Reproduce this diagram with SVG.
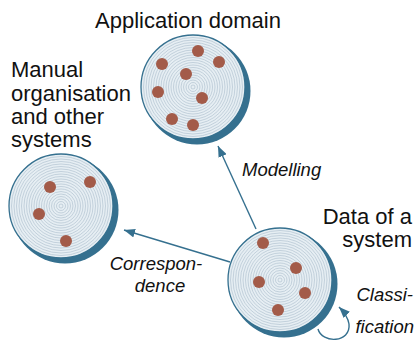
<svg xmlns="http://www.w3.org/2000/svg" xmlns:xlink="http://www.w3.org/1999/xlink" width="416" height="343" viewBox="0 0 416 343">
  <style>
    .label { font-family: "Liberation Sans", Arial, sans-serif; font-size: 22px; fill: #111; }
    .edge-label { font-family: "Liberation Sans", Arial, sans-serif; font-size: 18.5px; font-style: italic; fill: #111; }
    .shade { fill: #35708f; }
    .disc { fill: #e6eef3; stroke: #35708f; stroke-width: 1.3; }
    .ring { fill: none; stroke: #a9bccb; stroke-width: 0.6; }
    .dot { fill: #a35b49; }
    .conn { fill: none; stroke: #35708f; stroke-width: 1.4; }
  </style>
  <defs>
    <marker id="arrow" viewBox="0 0 10 8" refX="10" refY="4" markerWidth="11" markerHeight="9" markerUnits="userSpaceOnUse" orient="auto">
      <path d="M0,0 L10,4 L0,8 Z" fill="#35708f"/>
    </marker>
    <!-- a set with its shadow crescent and concentric rings, centred on 0,0 -->
    <g id="set">
      <circle class="shade" cx="4" cy="4" r="53.5"/>
      <circle class="disc" cx="0" cy="0" r="52"/>
      <g class="ring">
        <circle r="2"/><circle r="4.5"/><circle r="7"/><circle r="9.5"/><circle r="12"/>
        <circle r="14.5"/><circle r="17"/><circle r="19.5"/><circle r="22"/><circle r="24.5"/>
        <circle r="27"/><circle r="29.5"/><circle r="32"/><circle r="34.5"/><circle r="37"/>
        <circle r="39.5"/><circle r="42"/><circle r="44.5"/><circle r="47"/><circle r="49.5"/>
      </g>
    </g>
  </defs>

  <!-- connectors -->
  <g id="connectors">
    <path class="conn" d="M256,229 L218,146" marker-end="url(#arrow)"/>
    <path class="conn" d="M230,262 L124,230" marker-end="url(#arrow)"/>
    <path class="conn" d="M318,329 C322,344 351,343 349,324 C348,318 345,313 339,307" marker-end="url(#arrow)"/>
    <text class="edge-label" x="242" y="176">Modelling</text>
    <text class="edge-label" x="156" y="270" text-anchor="middle">Correspon-</text>
    <text class="edge-label" x="160" y="292" text-anchor="middle">dence</text>
    <text class="edge-label" x="413" y="301" text-anchor="end">Classi-</text>
    <text class="edge-label" x="414" y="333" text-anchor="end">fication</text>
  </g>

  <!-- application domain -->
  <g id="application-domain">
    <use xlink:href="#set" href="#set" transform="translate(193,87)"/>
    <circle class="dot" cx="198" cy="51" r="6"/>
    <circle class="dot" cx="219" cy="62" r="6"/>
    <circle class="dot" cx="162" cy="64" r="6"/>
    <circle class="dot" cx="186" cy="74" r="6"/>
    <circle class="dot" cx="158" cy="92" r="6"/>
    <circle class="dot" cx="202" cy="98" r="6"/>
    <circle class="dot" cx="172" cy="119" r="6"/>
    <circle class="dot" cx="193" cy="125" r="6"/>
    <text class="label" x="188" y="28" text-anchor="middle">Application domain</text>
  </g>

  <!-- manual organisation and other systems -->
  <g id="manual-organisation">
    <use xlink:href="#set" href="#set" transform="translate(61,206)"/>
    <circle class="dot" cx="50" cy="187" r="6"/>
    <circle class="dot" cx="90" cy="182" r="6"/>
    <circle class="dot" cx="39" cy="214" r="6"/>
    <circle class="dot" cx="66" cy="241" r="6"/>
    <text class="label" x="11" y="77">Manual</text>
    <text class="label" x="11" y="101">organisation</text>
    <text class="label" x="11" y="124">and other</text>
    <text class="label" x="11" y="147">systems</text>
  </g>

  <!-- data of a system -->
  <g id="data-of-a-system">
    <use xlink:href="#set" href="#set" transform="translate(280,280)"/>
    <circle class="dot" cx="263" cy="243" r="6"/>
    <circle class="dot" cx="296" cy="268" r="6"/>
    <circle class="dot" cx="259" cy="282" r="6"/>
    <circle class="dot" cx="305" cy="293" r="6"/>
    <circle class="dot" cx="278" cy="310" r="6"/>
    <text class="label" x="412" y="224" text-anchor="end">Data of a</text>
    <text class="label" x="412" y="247" text-anchor="end">system</text>
  </g>
</svg>
